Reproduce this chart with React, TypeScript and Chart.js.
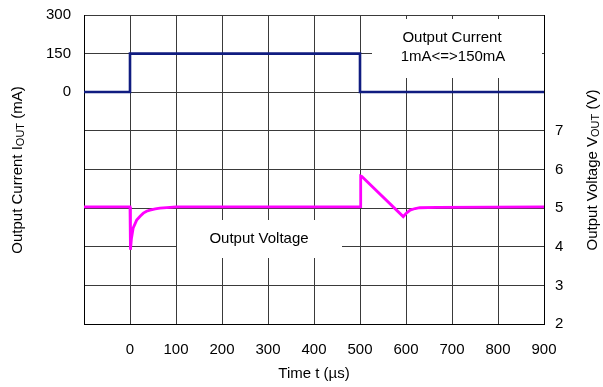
import React, { useEffect, useRef } from "react";
import { Chart, registerables } from "chart.js";

Chart.register(...registerables);

// Time axis (µs)
const timeMin = -100;
const timeMax = 900;
const timeStep = 100;

// Output current (mA): step 1mA <=> 150mA
const currentTime = [-100, 0, 0, 500, 500, 900];
const currentValues = [1, 1, 150, 150, 1, 1];

// Output voltage (V) transient
const voltageTime = [
  -100, 0, 1, 3, 7, 14.5, 22, 29, 36, 43.5, 55, 65, 87, 100,
  499, 500, 501.5, 504, 594, 600, 609, 620, 630, 667, 900,
];
const voltageValues = [
  5.03, 5.03, 3.92, 4.2, 4.49, 4.69, 4.79, 4.87, 4.92, 4.95, 4.98, 5.0, 5.02, 5.03,
  5.03, 5.04, 5.83, 5.82, 4.78, 4.86, 4.95, 4.99, 5.01, 5.02, 5.03,
];

// Axis ranges & tick labels
const currentAxisMin = -900;
const currentAxisMax = 300;
const currentAxisStep = 150;
const currentLabels = [0, 150, 300];
const voltageAxisMin = 2;
const voltageAxisMax = 10;
const voltageLabels = [2, 3, 4, 5, 6, 7];

const FONT = "'Liberation Sans', Arial, sans-serif";
const FS = 15;

function drawSubTitle(
  ctx: CanvasRenderingContext2D,
  cx: number,
  cy: number,
  parts: { t: string; sub?: boolean }[]
) {
  ctx.save();
  ctx.translate(cx, cy);
  ctx.rotate(-Math.PI / 2);
  const big = `${FS}px ${FONT}`;
  const small = `11px ${FONT}`;
  let total = 0;
  for (const p of parts) {
    ctx.font = p.sub ? small : big;
    total += ctx.measureText(p.t).width;
  }
  let x = -total / 2;
  ctx.fillStyle = "#000";
  ctx.textBaseline = "middle";
  ctx.textAlign = "left";
  for (const p of parts) {
    ctx.font = p.sub ? small : big;
    ctx.fillText(p.t, x, p.sub ? 3 : 0);
    x += ctx.measureText(p.t).width;
  }
  ctx.restore();
}

const textPlugin = {
  id: "textPlugin",
  beforeDatasetsDraw(chart: any) {
    const ctx: CanvasRenderingContext2D = chart.ctx;
    ctx.save();
    ctx.fillStyle = "#fff";
    ctx.fillRect(372, 19, 170, 59);
    ctx.fillRect(177, 220, 165, 38);
    ctx.fillStyle = "#000";
    ctx.font = `${FS}px ${FONT}`;
    ctx.textAlign = "center";
    ctx.textBaseline = "middle";
    ctx.fillText("Output Current", 452, 38);
    ctx.fillText("1mA<=>150mA", 453, 57);
    ctx.fillText("Output Voltage", 259, 239);
    ctx.restore();
  },
  afterDraw(chart: any) {
    const ctx: CanvasRenderingContext2D = chart.ctx;
    ctx.save();
    ctx.fillStyle = "#000";
    ctx.font = `${FS}px ${FONT}`;
    ctx.textAlign = "center";
    ctx.textBaseline = "middle";
    ctx.fillText("Time t (µs)", 314, 374);
    ctx.restore();
    drawSubTitle(ctx, 18, 170, [
      { t: "Output Current I" },
      { t: "OUT", sub: true },
      { t: " (mA)" },
    ]);
    drawSubTitle(ctx, 593, 170, [
      { t: "Output Voltage V" },
      { t: "OUT", sub: true },
      { t: " (V)" },
    ]);
  },
};

const fixSize = (w?: number, h?: number) => (s: any) => {
  if (w !== undefined) s.width = w;
  if (h !== undefined) s.height = h;
  s.paddingTop = 0;
  s.paddingBottom = 0;
  s.paddingLeft = 0;
  s.paddingRight = 0;
};

export default function App() {
  const ref = useRef<HTMLCanvasElement>(null);
  useEffect(() => {
    if (!ref.current) return;
    const gridColor = "#3a3a3a";
    const chart = new Chart(ref.current, {
      type: "line",
      data: {
        datasets: [
          {
            label: "Output Current",
            data: currentTime.map((t, i) => ({ x: t, y: currentValues[i] })),
            borderColor: "#101c80",
            borderWidth: 2.6,
            pointRadius: 0,
            tension: 0,
            yAxisID: "y",
          },
          {
            label: "Output Voltage",
            data: voltageTime.map((t, i) => ({ x: t, y: voltageValues[i] })),
            borderColor: "#ff00ff",
            borderWidth: 2.8,
            pointRadius: 0,
            tension: 0,
            yAxisID: "y1",
          },
        ],
      },
      options: {
        animation: false,
        responsive: false,
        layout: { padding: { top: 15, left: 0, right: 0, bottom: 0 } },
        plugins: {
          legend: { display: false },
          tooltip: { enabled: false },
        },
        scales: {
          x: {
            type: "linear",
            min: timeMin,
            max: timeMax,
            afterFit: fixSize(undefined, 63),
            ticks: {
              stepSize: timeStep,
              autoSkip: false,
              maxRotation: 0,
              padding: 17,
              color: "#000",
              font: { family: FONT, size: FS },
              callback: (v: any) => (Number(v) === timeMin ? "" : String(v)),
            },
            grid: { color: gridColor, lineWidth: 1, drawTicks: false },
            border: { color: "#000", width: 1 },
          },
          y: {
            type: "linear",
            position: "left",
            min: currentAxisMin,
            max: currentAxisMax,
            afterFit: fixSize(84),
            ticks: {
              stepSize: currentAxisStep,
              autoSkip: false,
              padding: 13,
              color: "#000",
              font: { family: FONT, size: FS },
              callback: (v: any) =>
                currentLabels.includes(Number(v)) ? String(v) : "",
            },
            grid: { color: gridColor, lineWidth: 1, drawTicks: false },
            border: { color: "#000", width: 1 },
          },
          y1: {
            type: "linear",
            position: "right",
            min: voltageAxisMin,
            max: voltageAxisMax,
            afterFit: fixSize(59),
            ticks: {
              stepSize: 1,
              autoSkip: false,
              padding: 11,
              color: "#000",
              font: { family: FONT, size: FS },
              callback: (v: any) =>
                voltageLabels.includes(Number(v)) ? String(v) : "",
            },
            grid: { display: false, drawTicks: false },
            border: { color: "#000", width: 1 },
          },
        },
      },
      plugins: [textPlugin],
    } as any);
    return () => chart.destroy();
  }, []);
  return (
    <div style={{ position: "fixed", left: 0, top: 0, width: 603, height: 387, background: "#fff" }}>
      <canvas ref={ref} width={603} height={387} style={{ display: "block" }} />
    </div>
  );
}
